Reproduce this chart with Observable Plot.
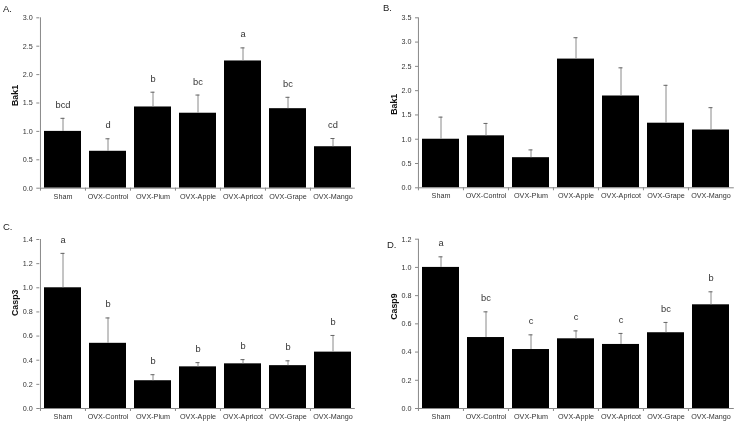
<!DOCTYPE html>
<html><head><meta charset="utf-8">
<script src="https://cdn.jsdelivr.net/npm/d3@7"></script>
<script src="https://cdn.jsdelivr.net/npm/@observablehq/plot@0.6"></script>
<style>
body{margin:0;background:#fff;}
#wrap{position:relative;width:739px;height:426px;font-family:"Liberation Sans",Arial,sans-serif;overflow:hidden;}
.panel{position:absolute;will-change:transform;}
.lab{position:absolute;font-size:9.5px;line-height:1;color:#222;will-change:transform;}
</style></head><body><div id="wrap"></div>
<script>
const categories = ["Sham","OVX-Control","OVX-Plum","OVX-Apple","OVX-Apricot","OVX-Grape","OVX-Mango"];

const bak1A = [1.00, 0.65, 1.43, 1.32, 2.24, 1.40, 0.73];
const bak1ASE = [0.23, 0.22, 0.26, 0.32, 0.23, 0.20, 0.145];
const lettersA = ["bcd","d","b","bc","a","bc","cd"];

const bak1B = [1.00, 1.07, 0.62, 2.65, 1.89, 1.33, 1.19];
const bak1BSE = [0.455, 0.255, 0.16, 0.44, 0.58, 0.78, 0.46];

const casp3 = [1.00, 0.54, 0.23, 0.345, 0.37, 0.355, 0.467];
const casp3SE = [0.285, 0.21, 0.05, 0.035, 0.035, 0.04, 0.138];
const lettersC = ["a","b","b","b","b","b","b"];

const casp9 = [1.00, 0.503, 0.418, 0.494, 0.454, 0.537, 0.735];
const casp9SE = [0.075, 0.182, 0.104, 0.056, 0.078, 0.073, 0.092];
const lettersD = ["a","bc","c","c","c","bc","b"];

const ticksA = [0, 0.5, 1.0, 1.5, 2.0, 2.5, 3.0];
const ticksB = [0, 0.5, 1.0, 1.5, 2.0, 2.5, 3.0, 3.5];
const ticksC = [0, 0.2, 0.4, 0.6, 0.8, 1.0, 1.2, 1.4];
const ticksD = [0, 0.2, 0.4, 0.6, 0.8, 1.0, 1.2];

const wrap = document.getElementById("wrap");

function panel(o) {
  const data = categories.map((c, i) => ({c, v: o.values[i], e: o.values[i] + o.se[i], l: o.letters ? o.letters[i] : ""}));
  const pi = 0.18, po = 0.09;
  const step = (o.width - o.ml - o.mr) / 7;
  const bw = step * (1 - pi);
  const capInset = (bw - 4) / 2;
  const p = Plot.plot({
    width: o.width, height: o.height,
    marginTop: o.mt, marginBottom: o.mb, marginLeft: o.ml, marginRight: o.mr,
    style: {fontFamily: "'Liberation Sans', Arial, sans-serif", background: "transparent", overflow: "visible"},
    x: {domain: categories, paddingInner: pi, paddingOuter: po, axis: null},
    y: {domain: o.domain, axis: null},
    marks: [
      Plot.barY(data, {x: "c", y: "v", fill: "#000"}),
      Plot.ruleX(data, {x: "c", y1: "v", y2: "e", stroke: "#8a8a8a", strokeWidth: 1}),
      Plot.tickY(data, {x: "c", y: "e", stroke: "#666", insetLeft: capInset, insetRight: capInset}),
      Plot.text(data, {x: "c", y: "e", text: "l", dy: -13.5, fontSize: 9.3, fill: "#333"}),
      Plot.ruleX([categories[0]], {x: d => d, dx: -step / 2, stroke: "#888"}),
      Plot.ruleY([0], {stroke: "#888"}),
      Plot.axisX({tickSize: 3, tickFormat: () => "", dx: -step / 2, stroke: "#888", label: null}),
      Plot.axisX({tickSize: 0, tickPadding: 5.5, fontSize: 7.2, fill: "#333", label: null}),
      Plot.axisY({ticks: o.ticks, tickSize: 3, tickPadding: 4, tickFormat: d3.format(".1f"), fontSize: 7.2, fill: "#333", stroke: "#888", label: null}),
      Plot.text([o.label], {frameAnchor: "left", dx: -24.5, dy: o.titleDy, rotate: -90, fontWeight: "bold", fontSize: 8.8, fill: "#111", fontFamily: "'Liberation Sans Narrow','Liberation Sans',Arial,sans-serif"})
    ]
  });
  const div = document.createElement("div");
  div.className = "panel";
  div.style.left = o.left + "px";
  div.style.top = o.top + "px";
  div.appendChild(p);
  wrap.appendChild(div);
  const lab = document.createElement("div");
  lab.className = "lab";
  lab.textContent = o.panelLabel;
  lab.style.left = o.labX + "px";
  lab.style.top = (o.labBase - 8) + "px";
  wrap.appendChild(lab);
}

panel({values: bak1A, se: bak1ASE, letters: lettersA, label: "Bak1", domain: [0, 3], ticks: ticksA,
  left: 0, top: 0, width: 370, height: 210, mt: 17.3, mb: 22.3, ml: 39.3, mr: 15.2, titleDy: 3,
  panelLabel: "A.", labX: 3, labBase: 11.7});
panel({values: bak1B, se: bak1BSE, letters: null, label: "Bak1", domain: [0, 3.5], ticks: ticksB,
  left: 370, top: 0, width: 369, height: 210, mt: 17.3, mb: 22.7, ml: 48, mr: 5.2, titleDy: 12,
  panelLabel: "B.", labX: 383, labBase: 10.5});
panel({values: casp3, se: casp3SE, letters: lettersC, label: "Casp3", domain: [0, 1.4], ticks: ticksC,
  left: 0, top: 210, width: 370, height: 216, mt: 29, mb: 18, ml: 39.3, mr: 15.2, titleDy: -8,
  panelLabel: "C.", labX: 3, labBase: 230});
panel({values: casp9, se: casp9SE, letters: lettersD, label: "Casp9", domain: [0, 1.2], ticks: ticksD,
  left: 370, top: 210, width: 369, height: 216, mt: 28.7, mb: 18, ml: 48, mr: 5.2, titleDy: -4,
  panelLabel: "D.", labX: 387, labBase: 248});
</script>
</body></html>
